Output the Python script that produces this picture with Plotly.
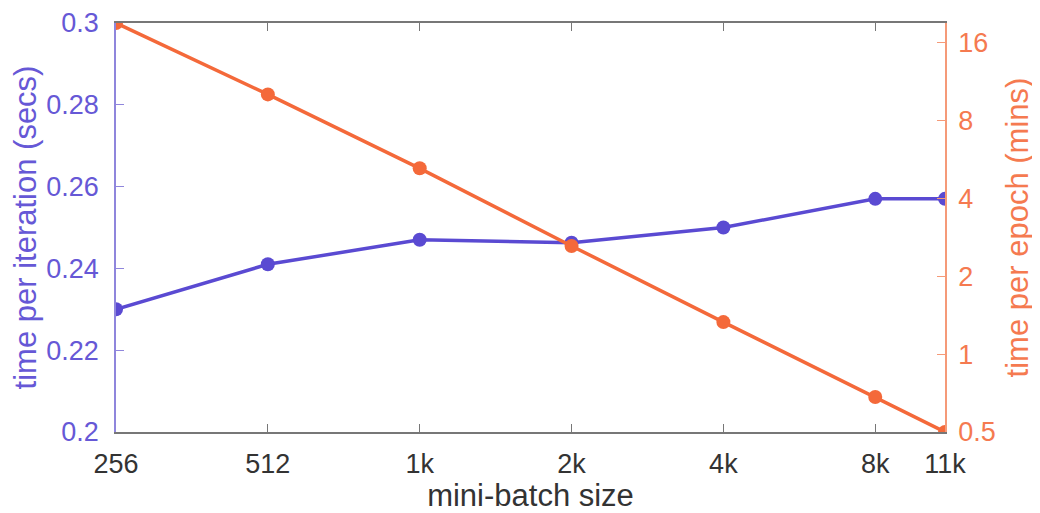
import plotly.graph_objects as go
import math

batch_sizes = [256, 512, 1024, 2048, 4096, 8192, 11264]
batch_labels = ["256", "512", "1k", "2k", "4k", "8k", "11k"]
time_per_iter = [0.230, 0.241, 0.247, 0.2463, 0.250, 0.257, 0.257]
time_per_epoch = [19.07, 10.1, 5.23, 2.62, 1.33, 0.683, 0.5]
left_ticks = [0.2, 0.22, 0.24, 0.26, 0.28, 0.3]
left_tick_labels = ["0.2", "0.22", "0.24", "0.26", "0.28", "0.3"]
right_ticks = [0.5, 1, 2, 4, 8, 16]
right_tick_labels = ["0.5", "1", "2", "4", "8", "16"]

BLUE = "#5a4ad2"
BLUE_TXT = "#6658d6"
ORANGE = "#f4693a"
ORANGE_TXT = "#f57a50"
FONT = "Liberation Sans"

fig = go.Figure()
fig.add_trace(go.Scatter(
    x=batch_sizes, y=time_per_iter, mode="lines+markers",
    line=dict(color=BLUE, width=3.5), marker=dict(size=14, color=BLUE),
    yaxis="y", showlegend=False))
fig.add_trace(go.Scatter(
    x=batch_sizes, y=time_per_epoch, mode="lines+markers",
    line=dict(color=ORANGE, width=3.5), marker=dict(size=14, color=ORANGE),
    yaxis="y2", showlegend=False))

fig.update_layout(
    width=1032, height=505,
    margin=dict(l=108, r=95, t=15, b=81),
    paper_bgcolor="white", plot_bgcolor="white",
    font=dict(family=FONT, size=27),
    xaxis=dict(
        type="log", range=[math.log10(256), math.log10(11264)],
        tickvals=batch_sizes, ticktext=batch_labels,
        tickfont=dict(color="#333333", size=27),
        ticklabelstandoff=7,
        title=dict(text="mini-batch size", font=dict(color="#333333", size=31), standoff=10),
        showline=True, linecolor="#777777", linewidth=1.5, mirror="ticks",
        ticks="inside", ticklen=8, tickcolor="#777777",
        showgrid=False, zeroline=False, automargin=False),
    yaxis=dict(
        range=[0.2, 0.3], tickvals=left_ticks, ticktext=left_tick_labels,
        tickfont=dict(color=BLUE_TXT, size=27),
        ticklabelstandoff=10,
        title=dict(text="time per iteration (secs)", font=dict(color=BLUE_TXT, size=31), standoff=6),
        showline=True, linecolor="#8f86dc", linewidth=1.5,
        ticks="inside", ticklen=8, tickcolor="#8f86dc",
        showgrid=False, zeroline=False, automargin=False),
    yaxis2=dict(
        type="log", range=[math.log10(0.5), math.log10(19.07)],
        overlaying="y", side="right",
        tickvals=right_ticks, ticktext=right_tick_labels,
        tickfont=dict(color=ORANGE_TXT, size=27),
        ticklabelstandoff=6,
        title=dict(text="time per epoch (mins)", font=dict(color=ORANGE_TXT, size=31), standoff=12),
        showline=True, linecolor="#f59a78", linewidth=1.5,
        ticks="inside", ticklen=8, tickcolor="#f59a78",
        showgrid=False, zeroline=False, automargin=False),
)

fig.write_html("out.html")
